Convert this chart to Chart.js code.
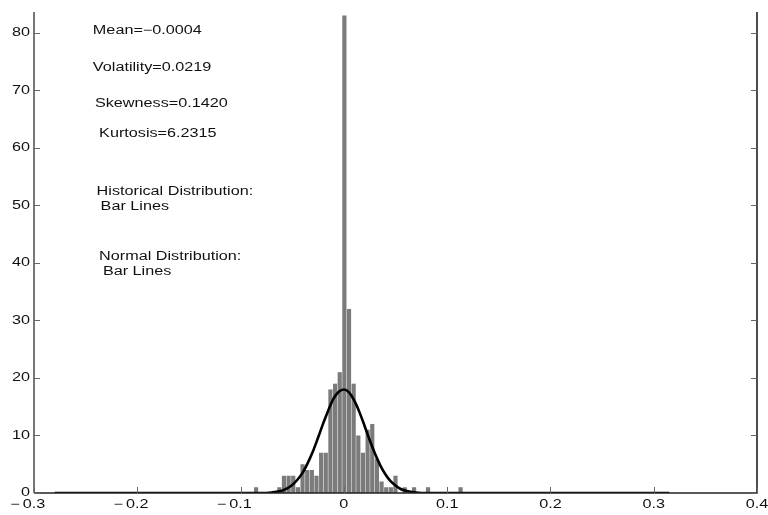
<!DOCTYPE html>
<html>
<head>
<meta charset="utf-8">
<script src="https://cdn.jsdelivr.net/npm/chart.js@4/dist/chart.umd.min.js"></script>
<style>
html,body{margin:0;padding:0;background:#fff;}
canvas{display:block;}
</style>
</head>
<body>
<canvas id="histChart" width="768" height="515"></canvas>
<script>

// histogram bins (centre of each bin) and counts
const binCentres=[-0.085,-0.0625,-0.058,-0.0535,-0.049,-0.0445,-0.04,-0.0355,-0.031,-0.0265,-0.022,-0.0175,-0.013,-0.0085,-0.004,0.0005,0.005,0.0095,0.014,0.0185,0.023,0.0275,0.032,0.0365,0.041,0.0455,0.05,0.059,0.068,0.0815,0.113];
const binCounts=[1,1,3,3,3,1,5,4,4,3,7,7,18,19,21,83,32,19,10,7,11,12,6,2,1,1,3,1,1,1,1];

// fitted normal curve
const curveX=[-0.28,-0.08,-0.07,-0.06,-0.055,-0.05,-0.045,-0.04,-0.035,-0.03,-0.025,-0.02,-0.015,-0.01,-0.005,0,0.005,0.01,0.015,0.02,0.025,0.03,0.035,0.04,0.045,0.05,0.055,0.06,0.07,0.08,0.315];
const curveY=[0,0,0.1,0.4,0.8,1.4,2.3,3.5,5.2,7.2,9.6,12.1,14.4,16.4,17.6,18,17.5,16.1,14.1,11.7,9.2,6.9,4.9,3.3,2.1,1.3,0.7,0.4,0.1,0,0];

// axis ticks
const xTicks=[-0.3,-0.2,-0.1,0,0.1,0.2,0.3,0.4];
const yTicks=[0,10,20,30,40,50,60,70,80];

// text block in the upper left
const statLines=["Mean=\u22120.0004","Volatility=0.0219","Skewness=0.1420","Kurtosis=6.2315","Historical Distribution:","Bar Lines","Normal Distribution:","Bar Lines"];

const FONT="12px 'Liberation Sans', Arial, sans-serif";
const SX=1.35; // the original text is drawn wide

function wideText(ctx,str,x,y,align){
ctx.save();
ctx.translate(x,y);
ctx.scale(SX,1);
ctx.textAlign=align;
ctx.fillText(str,0,0);
ctx.restore();
}

const framePlugin={
id:"frame",
afterDatasetsDraw(chart){
const ctx=chart.ctx;
const a=chart.chartArea;
const xs=chart.scales.x;
const ys=chart.scales.y;

ctx.save();

// axis lines: left, bottom, right (no top line)
ctx.lineWidth=1.6;
ctx.strokeStyle="#555";
ctx.beginPath();
ctx.moveTo(a.left,a.top);
ctx.lineTo(a.left,a.bottom);
ctx.stroke();
ctx.strokeStyle="#222";
ctx.beginPath();
ctx.moveTo(a.left,a.bottom);
ctx.lineTo(a.right,a.bottom);
ctx.lineTo(a.right,a.top);
ctx.stroke();

// inward tick marks
ctx.lineWidth=1;
ctx.strokeStyle="#666";
ctx.beginPath();
xTicks.forEach(v=>{
const px=Math.round(xs.getPixelForValue(v))+0.5;
ctx.moveTo(px,a.bottom);
ctx.lineTo(px,a.bottom-6);
});
yTicks.forEach(v=>{
const py=Math.round(ys.getPixelForValue(v))+0.5;
ctx.moveTo(a.left,py);
ctx.lineTo(a.left+6,py);
ctx.moveTo(a.right,py);
ctx.lineTo(a.right-6,py);
});
ctx.stroke();

// tick labels
ctx.font=FONT;
ctx.fillStyle="#111";
ctx.textBaseline="middle";
yTicks.forEach(v=>{
wideText(ctx,String(v),a.left-4,ys.getPixelForValue(v),"right");
});
ctx.textBaseline="top";
xTicks.forEach(v=>{
const px=xs.getPixelForValue(v);
const num=String(Math.abs(v));
wideText(ctx,num,px,a.bottom+6,"center");
if(v<0){
const w=ctx.measureText(num).width*SX;
wideText(ctx,"\u2212",px-w/2-3,a.bottom+6,"right");
}
});

// statistics text, placed in data units like the original
const spots=[[-0.243,80.3],[-0.243,73.9],[-0.241,67.6],[-0.237,62.4],[-0.2394,52.4],[-0.2355,49.7],[-0.237,41.1],[-0.2333,38.5]];
ctx.textBaseline="middle";
statLines.forEach((t,i)=>{
wideText(ctx,t,xs.getPixelForValue(spots[i][0]),ys.getPixelForValue(spots[i][1]),"left");
});

ctx.restore();
}
};

const ctx=document.getElementById("histChart").getContext("2d");

const histChart=new Chart(ctx,{
type:"bar",
data:{
datasets:[
{
type:"line",
label:"Normal",
data:curveX.map((x,i)=>({x:x,y:curveY[i]})),
borderColor:"#000",
borderWidth:2.6,
pointRadius:0,
cubicInterpolationMode:"monotone",
fill:false,
order:1
},
{
type:"bar",
label:"Historical",
data:binCentres.map((x,i)=>({x:x,y:binCounts[i]})),
backgroundColor:"#7b7b7b",
borderWidth:0,
barPercentage:0.9,
categoryPercentage:1,
order:2
}
]
},
options:{
responsive:false,
animation:false,
layout:{padding:{top:12,right:11,left:0,bottom:0}},
plugins:{legend:{display:false},tooltip:{enabled:false}},
scales:{
x:{
type:"linear",
min:-0.3,
max:0.4,
offset:false,
grid:{display:false},
border:{display:false},
ticks:{display:false},
afterFit:s=>{s.height=22;}
},
y:{
min:0,
max:83.6,
grid:{display:false},
border:{display:false},
ticks:{display:false},
afterFit:s=>{s.width=34;}
}
}
},
plugins:[framePlugin]
});

</script>
</body>
</html>
